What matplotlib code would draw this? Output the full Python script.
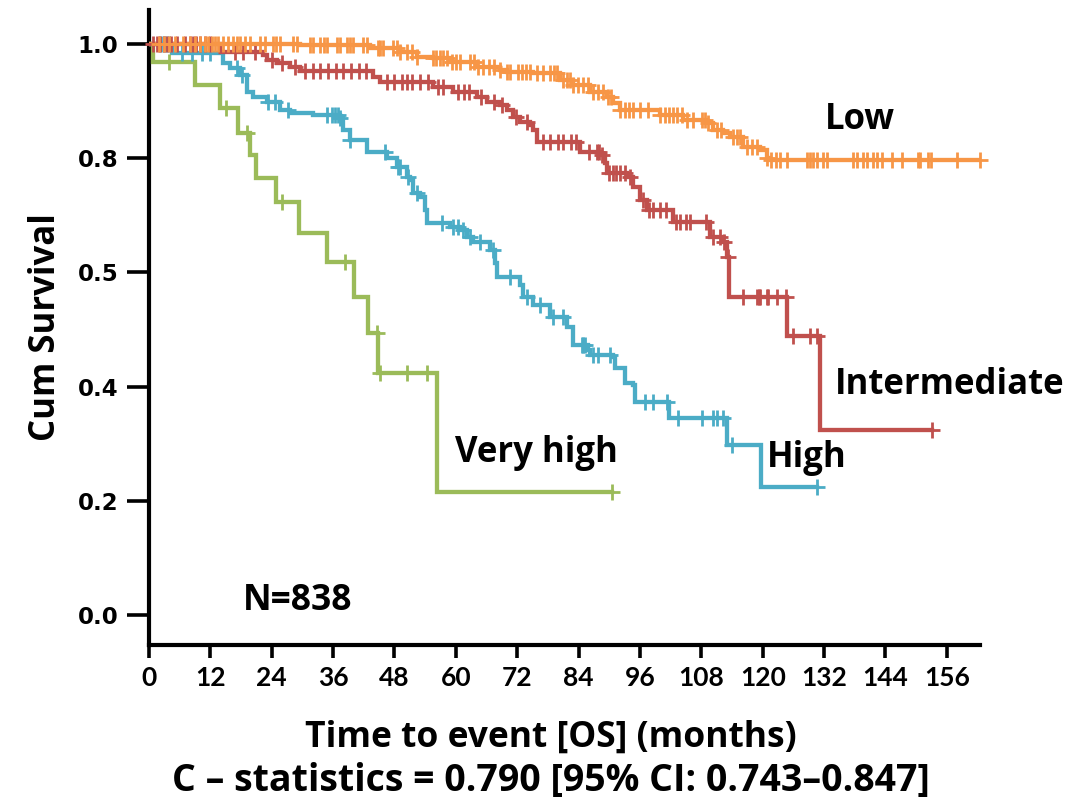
import numpy as np
import matplotlib
matplotlib.use("Agg")
import matplotlib.pyplot as plt

# ---- data (months, cumulative survival after each event) ----
low_t = [29.5, 43.2, 49.1, 52.4, 55.5, 58.8, 64.1, 68.6, 70.0, 75.1, 80.4, 82.9, 86.2, 89.5,
         90.7, 92.1, 99.9, 104.4, 109.1, 110.3, 112.2, 113.6, 116.1, 119.5, 120.8, 121.4]
low_s = [0.998, 0.993, 0.986, 0.977, 0.975, 0.968, 0.960, 0.954, 0.951, 0.949, 0.937, 0.928, 0.916, 0.907,
         0.897, 0.884, 0.876, 0.867, 0.862, 0.849, 0.844, 0.837, 0.820, 0.814, 0.800, 0.797]
low_end = 162.5
low_cens = [2.0, 3.0, 4.0, 5.1, 6.6, 8.0, 9.0, 10.0, 10.9, 11.5, 12.3, 12.9, 13.5, 14.5, 15.5, 16.5, 17.2,
            17.8, 18.8, 19.8, 21.7, 22.7, 24.2, 24.9, 25.6, 28.2, 28.9, 31.5, 32.1, 33.5, 34.2, 34.9, 36.8,
            37.3, 38.7, 39.3, 39.9, 41.8, 42.6, 44.8, 45.2, 45.7, 47.7, 48.4, 49.1, 50.4, 51.4, 52.4, 55.5,
            56.2, 56.9, 57.5, 58.3, 59.2, 60.0, 60.8, 62.8, 63.5, 64.3, 65.3, 66.5, 67.5, 68.6, 70.0, 70.6,
            72.1, 72.9, 73.7, 74.5, 75.9, 77.0, 78.4, 79.1, 79.8, 81.0, 81.7, 82.3, 83.0, 83.8, 84.9, 85.8,
            86.8, 87.8, 88.8, 89.8, 90.4, 92.1, 93.0, 93.8, 94.6, 96.0, 97.6, 99.9, 100.8, 101.6, 102.4,
            103.2, 104.2, 105.2, 106.4, 108.1, 108.7, 109.3, 111.0, 111.8, 114.2, 114.9, 115.5, 116.9,
            117.9, 118.9, 120.8, 121.6, 122.5, 123.4, 124.7, 128.6, 129.2, 129.8, 130.6, 131.8, 132.5,
            137.6, 138.4, 139.6, 140.4, 141.5, 142.3, 143.3, 145.3, 147.2, 150.3, 150.7, 152.3, 152.9,
            158.0, 162.5]

int_t = [13.9, 22.3, 23.1, 25.0, 27.6, 29.5, 43.8, 45.2, 55.5, 59.4, 64.1, 66.1, 68.6, 70.0, 71.2,
         72.5, 74.5, 75.1, 75.9, 84.3, 88.2, 89.2, 89.5, 93.5, 94.6, 96.0, 97.4, 102.4, 109.7, 112.2,
         113.0, 113.4, 124.7, 131.2]
int_s = [0.986, 0.981, 0.972, 0.967, 0.960, 0.953, 0.942, 0.933, 0.925, 0.916, 0.907, 0.898, 0.893,
         0.884, 0.872, 0.863, 0.858, 0.849, 0.828, 0.811, 0.806, 0.792, 0.774, 0.767, 0.750, 0.727,
         0.709, 0.688, 0.662, 0.653, 0.627, 0.557, 0.489, 0.324]
int_end = 153.1
int_cens = [0.8, 1.5, 2.2, 3.0, 3.6, 4.3, 5.5, 7.0, 8.0, 8.6, 9.2, 10.0, 11.0, 12.0, 16.8, 18.4, 20.7,
            24.0, 26.0, 28.5, 30.5, 32.0, 33.5, 35.0, 36.5, 38.0, 39.5, 41.0, 42.5, 46.5, 48.0, 49.5,
            50.5, 51.5, 53.0, 54.5, 56.5, 57.5, 60.5, 61.5, 62.5, 65.0, 67.5, 69.0, 71.8, 74.0, 77.0,
            78.5, 80.0, 81.0, 82.5, 83.5, 86.0, 87.6, 88.0, 88.6, 90.0, 90.7, 91.3, 92.0, 93.0, 94.0,
            96.5, 97.8, 98.5, 100.0, 101.0, 103.0, 103.8, 105.0, 105.8, 109.0, 110.3, 111.6, 112.5,
            113.2, 116.1, 118.9, 119.2, 119.5, 120.8, 121.0, 122.8, 124.5, 125.9, 129.2, 130.6, 153.1]

high_t = [4.5, 14.5, 15.8, 17.8, 19.2, 20.3, 23.1, 25.6, 27.6, 32.1, 37.3, 37.9, 39.3, 42.6, 46.5,
          48.5, 50.4, 51.0, 51.6, 53.0, 54.0, 54.4, 58.8, 60.8, 62.2, 63.3, 66.7, 67.6, 68.0, 72.5,
          73.1, 75.1, 78.4, 81.7, 82.9, 85.8, 86.2, 90.7, 91.1, 93.1, 94.6, 95.0, 101.7, 113.0, 119.6]
high_s = [0.984, 0.967, 0.958, 0.946, 0.916, 0.907, 0.898, 0.884, 0.879, 0.876, 0.870, 0.849, 0.832,
          0.811, 0.800, 0.785, 0.767, 0.762, 0.739, 0.732, 0.709, 0.687, 0.680, 0.674, 0.662, 0.653,
          0.639, 0.616, 0.592, 0.578, 0.557, 0.543, 0.522, 0.504, 0.473, 0.464, 0.455, 0.452, 0.433,
          0.406, 0.403, 0.373, 0.345, 0.298, 0.224]
high_end = 130.6
high_cens = [2.2, 2.8, 3.4, 4.0, 6.5, 8.4, 10.4, 12.0, 17.2, 18.2, 23.3, 24.6, 27.2, 34.8, 35.8, 36.4,
             37.0, 37.3, 39.3, 46.1, 48.7, 49.0, 50.6, 52.4, 57.3, 59.4, 60.4, 61.4, 62.8, 64.7, 67.3,
             70.5, 74.0, 76.5, 79.0, 81.0, 84.6, 84.8, 85.2, 86.8, 87.8, 90.1, 97.0, 98.5, 101.3, 103.4,
             108.1, 110.3, 111.0, 112.2, 114.0, 130.6]

vh_t = [0.8, 9.0, 13.9, 17.4, 19.7, 20.9, 24.8, 29.3, 34.8, 40.1, 42.8, 44.8, 56.3]
vh_s = [0.968, 0.928, 0.888, 0.844, 0.806, 0.765, 0.723, 0.669, 0.618, 0.557, 0.494, 0.424, 0.215]
vh_end = 90.5
vh_cens = [3.9, 15.0, 19.2, 26.0, 38.3, 44.6, 45.2, 50.4, 54.3, 90.5]

x_ticks = [0, 12, 24, 36, 48, 60, 72, 84, 96, 108, 120, 132, 144, 156]
y_ticks = [0.0, 0.2, 0.4, 0.6, 0.8, 1.0]
y_ticklabels = ['0.0', '0.2', '0.4', '0.5', '0.8', '1.0']

groups = [
    ("Very high", vh_t, vh_s, vh_end, vh_cens, "#9BBB59"),
    ("High", high_t, high_s, high_end, high_cens, "#4BACC6"),
    ("Intermediate", int_t, int_s, int_end, int_cens, "#C0504D"),
    ("Low", low_t, low_s, low_end, low_cens, "#F79646"),
]

fig = plt.figure(figsize=(10.89, 8.05), dpi=100)
ax = fig.add_axes([0.1368, 0.1988, 0.7632, 0.7888])

for name, t, s, end, cens, col in groups:
    tt = np.concatenate([[0.0], t, [end]])
    ss = np.concatenate([[1.0], s, [s[-1]]])
    ax.step(tt, ss, where='post', color=col, lw=3.1, solid_joinstyle='miter', zorder=3)
    ct = np.array(cens)
    idx = np.searchsorted(tt[:-1], ct, side='right') - 1
    cy = ss[idx]
    ax.plot(ct, cy, ls='none', marker='+', ms=12, mew=2.0, color=col, zorder=4, clip_on=False)

ax.set_xlim(0, 162.5)
ax.set_ylim(-0.0525, 1.0595)
ax.set_xticks(x_ticks)
ax.set_yticks(y_ticks)
ax.set_yticklabels(y_ticklabels)

for sp in ['top', 'right']:
    ax.spines[sp].set_visible(False)
for sp in ['left', 'bottom']:
    ax.spines[sp].set_linewidth(3.0)
    ax.spines[sp].set_color('black')

ax.tick_params(axis='y', length=16, width=2.6, pad=6)
ax.tick_params(axis='x', length=9, width=2.6, pad=6)
for lab in ax.get_yticklabels():
    lab.set_fontfamily('DejaVu Sans')
    lab.set_fontweight('bold')
    lab.set_fontsize(16.5)
for lab in ax.get_xticklabels():
    lab.set_fontfamily('Lato')
    lab.set_fontweight('bold')
    lab.set_fontsize(19)

tf = dict(fontfamily='Open Sans', fontweight='bold', color='black')
ax.set_ylabel('Cum Survival', fontsize=25, labelpad=10, **tf)
fig.text(0.506, 0.084, 'Time to event [OS] (months)', ha='center', va='center', fontsize=25.5, **tf)
fig.text(0.506, 0.030, 'C \u2013 statistics = 0.790 [95% CI: 0.743\u20130.847]', ha='center', va='center',
         fontsize=27, **tf)

ax.text(132.2, 0.867, 'Low', ha='left', va='center', fontsize=25, **tf)
ax.text(134.1, 0.403, 'Intermediate', ha='left', va='center', fontsize=25, **tf)
ax.text(120.8, 0.275, 'High', ha='left', va='center', fontsize=25, **tf)
ax.text(59.8, 0.284, 'Very high', ha='left', va='center', fontsize=25, **tf)
ax.text(18.3, 0.025, 'N=838', ha='left', va='center', fontsize=25.5, **tf)

fig.savefig('out.png', dpi=100)
